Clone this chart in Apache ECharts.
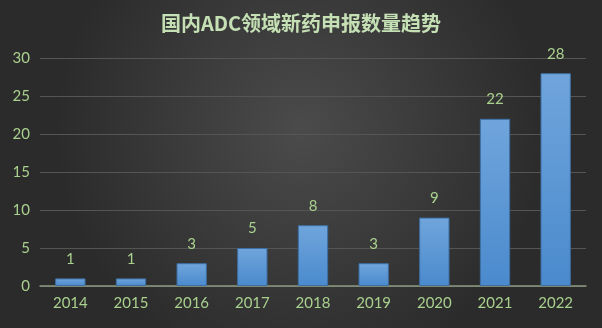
<!DOCTYPE html>
<html><head><meta charset="utf-8">
<script src="https://cdn.jsdelivr.net/npm/echarts@6/dist/echarts.min.js"></script>
<style>html,body{margin:0;padding:0;background:#333;}#c{width:602px;height:328px;}</style>
</head><body><div id="c"></div>
<script>
const title = '国内ADC领域新药申报数量趋势';
const categories = ['2014','2015','2016','2017','2018','2019','2020','2021','2022'];
const values = [1,1,3,5,8,3,9,22,28];
const yTicks = {min:0, max:30, interval:5};

const chart = echarts.init(document.getElementById('c'), null, {renderer:'canvas'});
const green = '#a9d18e';
chart.setOption({
  backgroundColor: {type:'radial', x:0.5, y:0.4, r:0.75, colorStops:[{offset:0,color:'#4b4b4b'},{offset:1,color:'#2b2b2b'}]},
  title: {text:title, left:'center', top:8, textStyle:{color:'#c5e0b4', fontSize:20, fontWeight:'bold', fontFamily:'Noto Sans CJK SC'}},
  grid: {left:40, right:16, top:58, bottom:42},
  xAxis: {type:'category', data:categories,
    axisLine:{lineStyle:{color:'#8a9a80', width:1.5}}, axisTick:{show:false},
    axisLabel:{color:green, fontSize:15, margin:10, fontFamily:'Lato'}},
  yAxis: {type:'value', min:yTicks.min, max:yTicks.max, interval:yTicks.interval,
    axisLine:{show:false}, axisTick:{show:false},
    splitLine:{lineStyle:{color:'#555555', width:1}},
    axisLabel:{color:green, fontSize:15, margin:10, fontFamily:'Lato'}},
  series: [{type:'bar', data:values, barWidth:'50%',
    itemStyle:{color:{type:'linear',x:0,y:0,x2:0,y2:1,colorStops:[{offset:0,color:'#70a5dc'},{offset:1,color:'#4a8acd'}]}, borderColor:'#3d6fa3', borderWidth:1},
    label:{show:true, position:'top', distance:12, color:green, fontSize:15, fontFamily:'Lato'}
  }]
});
</script></body></html>
